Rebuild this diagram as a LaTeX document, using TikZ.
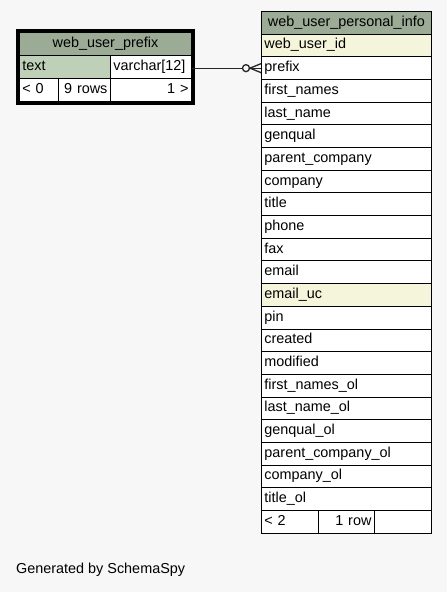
\documentclass[tikz,border=0pt]{standalone}
\usepackage{fontspec}
\setmainfont{Liberation Sans}
\usetikzlibrary{calc, fit}

\definecolor{hdrgreen}{HTML}{9BAB96}
\definecolor{keygreen}{HTML}{BED1B8}
\definecolor{idxbeige}{HTML}{F5F5DC}
\definecolor{pagegrey}{HTML}{F7F7F7}

\tikzset{
  cell/.style = {draw, fill=white, anchor=north west, line width=0.9pt,
    inner xsep=3pt, inner ysep=0pt, minimum height=22.68pt,
    text height=10.5pt, text depth=3.5pt, align=left,
    font=\fontsize{14.4}{16}\selectfont},
  head/.style = {cell, fill=hdrgreen, align=center},
  link/.style = {line width=1.3pt, black!85}
}

\begin{document}
\begin{tikzpicture} [x=1pt, y=-1pt]

\path [use as bounding box, fill=pagegrey] (0,0) rectangle (447,592);

% web_user_prefix
\node (pfx-head)  [head, text width=166pt] at (19,32) {web\_user\_prefix};
\node (pfx-key)   [cell, fill=keygreen, text width=85pt] at (19,55) {text};
\node (pfx-type)  [cell, text width=75pt] at (110,55) {varchar[12]};
\node (pfx-min)   [cell, text width=33pt] at (19,78) {< 0};
\node (pfx-count) [cell, text width=46pt, align=right] at (58,78) {9 rows};
\node (pfx-max)   [cell, text width=75pt, align=right] at (110,78) {1 >};
\node (pfx-frame) [draw, line width=3.5pt, inner sep=1.75pt,
                   fit=(pfx-head)(pfx-min)(pfx-max)] {};

% web_user_personal_info
\node (info-head) [head, text width=164pt] at (261,11) {web\_user\_personal\_info};
\foreach \field/\bg [count=\i] in {web\_user\_id/idxbeige, prefix/white,
    first\_names/white, last\_name/white, genqual/white,
    parent\_company/white, company/white, title/white, phone/white,
    fax/white, email/white, email\_uc/idxbeige, pin/white, created/white,
    modified/white, first\_names\_ol/white, last\_name\_ol/white,
    genqual\_ol/white, parent\_company\_ol/white, company\_ol/white,
    title\_ol/white}
  \node (info-\i) [cell, fill=\bg, text width=164pt] at (261,{11+\i*22.68}) {\field};
\node (info-min)   [cell, text width=51pt] at (261,509.96) {< 2};
\node (info-count) [cell, text width=50pt, align=right] at (318,509.96) {1 row};
\node (info-max)   [cell, text width=51pt] at (374,509.96) {};

% prefix -> web_user_prefix.text
\node (fk-ring) [circle, draw, link, fill=pagegrey, inner sep=0pt,
                 minimum size=7pt] at ($(info-2.west)+(-15,0)$) {};
\draw [link] (pfx-type.east |- info-2.west) -- (fk-ring);
\draw [link] (fk-ring.east) -- (info-2.west);
\draw [link] ($(info-2.west)+(0,-4.5)$) -- ($(info-2.west)+(-11,0)$)
             -- ($(info-2.west)+(0,4.5)$);

\node (credit) [anchor=west, inner sep=0pt, font=\fontsize{14.4}{16}\selectfont]
  at (16,570) {Generated by SchemaSpy};
\end{tikzpicture}
\end{document}
